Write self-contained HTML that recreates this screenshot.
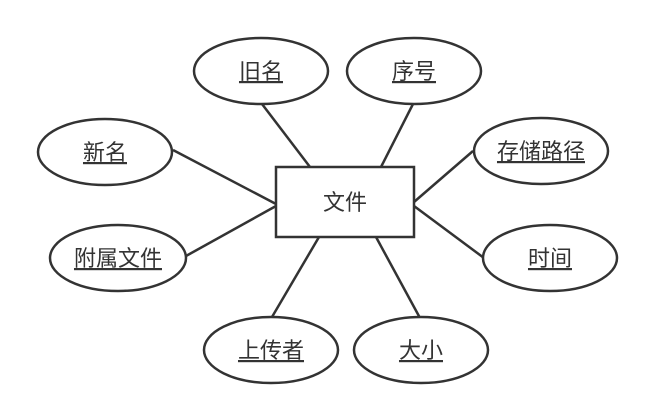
<!DOCTYPE html>
<html><head><meta charset="utf-8"><style>html,body{margin:0;padding:0;background:#fff;overflow:hidden}</style></head>
<body>
<svg width="654" height="418" viewBox="0 0 654 418" xmlns="http://www.w3.org/2000/svg" font-family="Liberation Sans, Noto Sans CJK SC, sans-serif" font-size="22" fill="#333" style="display:block">
<g stroke="#333" stroke-width="2.5" fill="none">
<line x1="262" y1="104" x2="310" y2="167"/>
<line x1="413" y1="104" x2="381" y2="167"/>
<line x1="173" y1="150" x2="276" y2="204"/>
<line x1="473" y1="151" x2="414" y2="202"/>
<line x1="186" y1="256" x2="276" y2="206"/>
<line x1="484" y1="258" x2="414" y2="206"/>
<line x1="272" y1="317" x2="319" y2="237"/>
<line x1="420" y1="318" x2="376" y2="237"/>
<rect x="276" y="167" width="138" height="70" fill="#fff"/>
<ellipse cx="261" cy="71" rx="67" ry="33" fill="#fff"/>
<ellipse cx="414" cy="71" rx="67" ry="33" fill="#fff"/>
<ellipse cx="105" cy="152" rx="67" ry="33" fill="#fff"/>
<ellipse cx="541" cy="151" rx="67" ry="33" fill="#fff"/>
<ellipse cx="118" cy="258" rx="68" ry="33" fill="#fff"/>
<ellipse cx="550" cy="258" rx="67" ry="33" fill="#fff"/>
<ellipse cx="271" cy="350" rx="67" ry="33" fill="#fff"/>
<ellipse cx="421" cy="350" rx="67" ry="33" fill="#fff"/>
</g>
<g text-anchor="middle" text-decoration="underline">
<text x="261" y="79">旧名</text>
<text x="414" y="79">序号</text>
<text x="105" y="160">新名</text>
<text x="541" y="159">存储路径</text>
<text x="118" y="266">附属文件</text>
<text x="550" y="266">时间</text>
<text x="271" y="358">上传者</text>
<text x="421" y="358">大小</text>
</g>
<text x="345" y="210" text-anchor="middle">文件</text>
</svg>
</body></html>
